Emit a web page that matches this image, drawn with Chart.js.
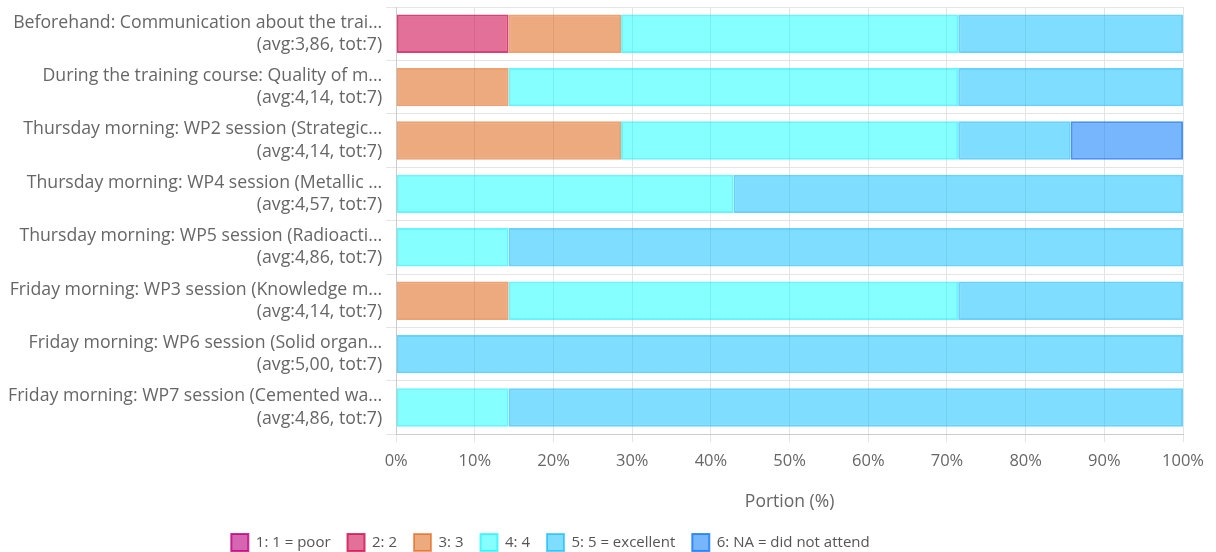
<!DOCTYPE html>
<html>
<head>
<meta charset="utf-8">
<script src="https://cdn.jsdelivr.net/npm/chart.js@4/dist/chart.umd.min.js"></script>
<style>
  html, body { margin: 0; padding: 0; background: #fff; }
  #wrap { width: 1216px; height: 552px; }
</style>
</head>
<body>
<div id="wrap"><canvas id="chart"></canvas></div>
<script>
// questions (two-line labels)
const categories = [
    ['Beforehand: Communication about the trai...', '(avg:3,86, tot:7)'],
    ['During the training course: Quality of m...', '(avg:4,14, tot:7)'],
    ['Thursday morning: WP2 session (Strategic...', '(avg:4,14, tot:7)'],
    ['Thursday morning: WP4 session (Metallic ...', '(avg:4,57, tot:7)'],
    ['Thursday morning: WP5 session (Radioacti...', '(avg:4,86, tot:7)'],
    ['Friday morning: WP3 session (Knowledge m...', '(avg:4,14, tot:7)'],
    ['Friday morning: WP6 session (Solid organ...', '(avg:5,00, tot:7)'],
    ['Friday morning: WP7 session (Cemented wa...', '(avg:4,86, tot:7)']
];

// portion (%) per answer
const poor      = [0, 0, 0, 0, 0, 0, 0, 0];
const two       = [14.29, 0, 0, 0, 0, 0, 0, 0];
const three     = [14.29, 14.29, 28.57, 0, 0, 14.29, 0, 0];
const four      = [42.86, 57.14, 42.86, 42.86, 14.29, 57.14, 0, 14.29];
const excellent = [28.57, 28.57, 14.29, 57.14, 85.71, 28.57, 100, 85.71];
const na        = [0, 0, 14.29, 0, 0, 0, 0, 0];

const xTicks = [0, 10, 20, 30, 40, 50, 60, 70, 80, 90, 100];

const FONT = '"Open Sans", "Noto Sans", sans-serif';

function ds(label, data, fill, border) {
    return { label, data, backgroundColor: fill, borderColor: border, borderWidth: 2, borderSkipped: false };
}

// legend sits a bit left of centre in the original
const legendShift = {
    id: 'legendShift',
    afterLayout(chart) {
        chart.legend.left -= 43;
        chart.legend.right -= 43;
    }
};

new Chart(document.getElementById('chart'), {
    type: 'bar',
    data: {
        labels: categories,
        datasets: [
            ds('1: 1 = poor', poor, 'rgba(187, 0, 125, 0.6)', 'rgba(187, 0, 125, 0.8)'),
            ds('2: 2', two, 'rgba(207, 17, 83, 0.6)', 'rgba(207, 17, 83, 0.8)'),
            ds('3: 3', three, 'rgba(221, 85, 0, 0.5)', 'rgba(221, 85, 0, 0.55)'),
            ds('4: 4', four, 'rgba(0, 255, 255, 0.48)', 'rgba(0, 240, 255, 0.6)'),
            ds('5: 5 = excellent', excellent, 'rgba(0, 190, 255, 0.5)', 'rgba(0, 180, 255, 0.6)'),
            ds('6: NA = did not attend', na, 'rgba(20, 128, 250, 0.58)', 'rgba(20, 120, 250, 0.8)')
        ]
    },
    options: {
        indexAxis: 'y',
        responsive: true,
        maintainAspectRatio: false,
        animation: false,
        layout: { padding: { left: 4, right: 33, top: 7, bottom: -9 } },
        datasets: { bar: { categoryPercentage: 0.8, barPercentage: 0.9 } },
        scales: {
            x: {
                stacked: true,
                min: 0,
                max: 100,
                afterBuildTicks: axis => { axis.ticks = xTicks.map(v => ({ value: v })); },
                ticks: { color: '#666', font: { family: FONT, size: 16.5 }, callback: v => v + '%', padding: 9 },
                grid: { color: '#e4e4e4', tickLength: 8 },
                border: { color: '#ccc' },
                title: { display: true, text: 'Portion (%)', color: '#666', font: { family: FONT, size: 17.5 }, padding: { top: 12, bottom: 4 } }
            },
            y: {
                stacked: true,
                afterFit: s => { s.paddingTop = 0; s.paddingBottom = 0; },
                ticks: { color: '#666', font: { family: FONT, size: 17.7, lineHeight: 1.25 }, padding: 4 },
                grid: { color: '#e4e4e4', tickLength: 10 },
                border: { color: '#ccc' }
            }
        },
        plugins: {
            legend: {
                position: 'bottom',
                labels: { color: '#555', font: { family: FONT, size: 15 }, boxWidth: 17, boxHeight: 17, padding: 17 }
            },
            tooltip: { enabled: false }
        }
    },
    plugins: [legendShift]
});
</script>
</body>
</html>
